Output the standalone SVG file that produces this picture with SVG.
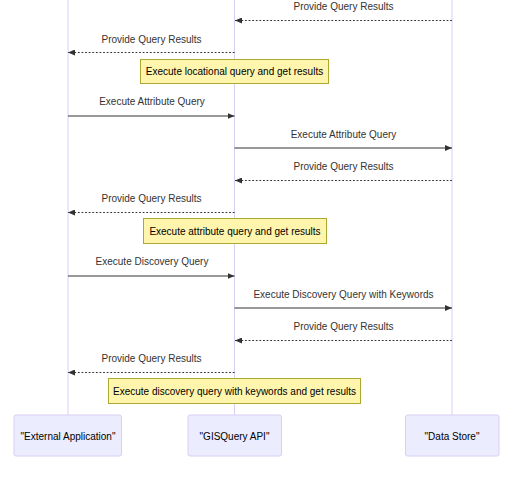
<svg xmlns="http://www.w3.org/2000/svg" width="519" height="477" viewBox="0 0 519 477">
<style>
  text { font-family: "Liberation Sans", Arial, sans-serif; font-size: 10px; fill: #333; text-anchor: middle; }
  .life { stroke: #dacef2; stroke-width: 1; fill: none; }
  .actor rect { fill: #ececff; stroke: #dacef2; stroke-width: 1; }
  .actor text { fill: #000; }
  .msg { stroke: #333; stroke-width: 1.2; fill: none; }
  .dash { stroke-dasharray: 1.8 1.8; }
  .note rect { fill: #fff5ad; stroke: #aaaa33; stroke-width: 1; }
  .note text { fill: #000; }
</style>
<defs>
  <marker id="ah" viewBox="0 0 10 10" refX="10" refY="5" markerWidth="7" markerHeight="6" markerUnits="userSpaceOnUse" orient="auto" preserveAspectRatio="none">
    <path d="M0,0 L10,5 L0,10 z" fill="#333"/>
  </marker>
</defs>
<rect width="519" height="477" fill="#fff"/>
<g id="lifelines">
  <line class="life" x1="68" y1="0" x2="68" y2="415"/>
  <line class="life" x1="234.5" y1="0" x2="234.5" y2="415"/>
  <line class="life" x1="452" y1="0" x2="452" y2="415"/>
</g>
<g id="connectors">
  <line class="msg dash" x1="452" y1="20.5" x2="235" y2="20.5" marker-end="url(#ah)"/>
  <text x="343.5" y="10">Provide Query Results</text>
  <line class="msg dash" x1="234.5" y1="52.5" x2="68" y2="52.5" marker-end="url(#ah)"/>
  <text x="151.5" y="43">Provide Query Results</text>
  <line class="msg" x1="68" y1="116" x2="234.5" y2="116" marker-end="url(#ah)"/>
  <text x="152" y="105">Execute Attribute Query</text>
  <line class="msg" x1="234.5" y1="148" x2="452" y2="148" marker-end="url(#ah)"/>
  <text x="343.5" y="137.5">Execute Attribute Query</text>
  <line class="msg dash" x1="452" y1="180.5" x2="235" y2="180.5" marker-end="url(#ah)"/>
  <text x="343.5" y="170">Provide Query Results</text>
  <line class="msg dash" x1="234.5" y1="212.5" x2="68" y2="212.5" marker-end="url(#ah)"/>
  <text x="151.5" y="202">Provide Query Results</text>
  <line class="msg" x1="68" y1="276" x2="234.5" y2="276" marker-end="url(#ah)"/>
  <text x="152" y="265">Execute Discovery Query</text>
  <line class="msg" x1="234.5" y1="308" x2="452" y2="308" marker-end="url(#ah)"/>
  <text x="343.5" y="297.5">Execute Discovery Query with Keywords</text>
  <line class="msg dash" x1="452" y1="340.5" x2="235" y2="340.5" marker-end="url(#ah)"/>
  <text x="343.5" y="330">Provide Query Results</text>
  <line class="msg dash" x1="234.5" y1="372.5" x2="68" y2="372.5" marker-end="url(#ah)"/>
  <text x="151.5" y="362">Provide Query Results</text>
</g>
<g id="note1" class="note">
  <rect x="140.5" y="59.5" width="188" height="24"/>
  <text x="234.5" y="75">Execute locational query and get results</text>
</g>
<g id="note2" class="note">
  <rect x="143.5" y="218.5" width="183" height="25"/>
  <text x="235" y="234.5">Execute attribute query and get results</text>
</g>
<g id="note3" class="note">
  <rect x="108.5" y="378.5" width="252" height="25"/>
  <text x="234.5" y="394.5">Execute discovery query with keywords and get results</text>
</g>
<g id="actor-external" class="actor">
  <rect x="14" y="415" width="107.5" height="41" rx="2"/>
  <text x="68" y="440">"External Application"</text>
</g>
<g id="actor-api" class="actor">
  <rect x="188" y="415" width="93.5" height="41" rx="2"/>
  <text x="234.5" y="440">"GISQuery API"</text>
</g>
<g id="actor-store" class="actor">
  <rect x="405.5" y="415" width="93.5" height="41" rx="2"/>
  <text x="452" y="440">"Data Store"</text>
</g>
</svg>
